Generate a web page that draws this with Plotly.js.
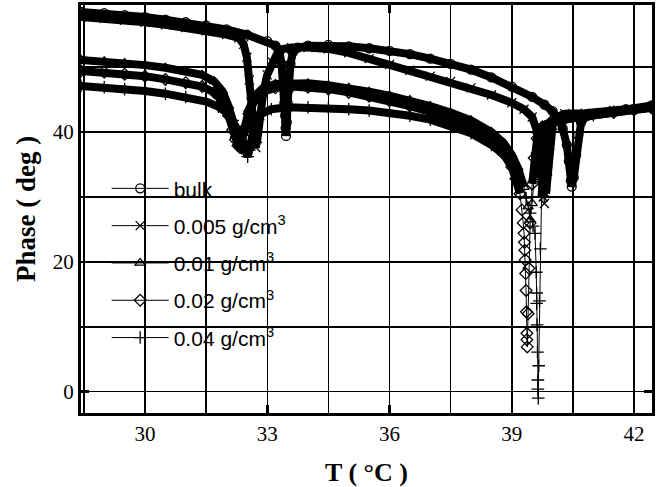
<!DOCTYPE html>
<html>
<head>
<meta charset="utf-8">
<script src="https://cdn.plot.ly/plotly-3.0.1.min.js"></script>
<style>
  html, body { margin: 0; padding: 0; background: #fff; }
  #chart { width: 672px; height: 487px; }
</style>
</head>
<body>
<div id="chart"></div>
<script>
// Phase angle vs temperature for the bulk sample and four concentrations
const seriesNames = ['bulk', '0.005 g/cm<sup>3</sup>', '0.01 g/cm<sup>3</sup>', '0.02 g/cm<sup>3</sup>', '0.04 g/cm<sup>3</sup>'];
const seriesSymbols = ['circle-open', 'x-thin-open', 'triangle-up-open', 'diamond-open', 'cross-thin-open'];

const T_bulk = [28.43, 29, 29.5, 30, 30.5, 31, 31.5, 32, 32.5, 33.0, 33.2, 33.3, 33.35, 33.39, 33.42, 33.44, 33.45, 33.46, 33.48, 33.5, 33.53, 33.57, 33.63, 33.75, 34.0, 34.5, 35, 35.5, 36, 36.5, 37, 37.5, 38, 38.5, 39, 39.5, 39.8, 40.0, 40.15, 40.25, 40.35, 40.4, 40.45, 40.47, 40.52, 40.58, 40.63, 40.7, 40.85, 41.2, 41.8, 42.43];
const P_bulk = [58.5, 58.3, 58.0, 57.7, 57.3, 56.9, 56.4, 55.8, 55.0, 54.0, 53.3, 52.4, 50.5, 47.0, 44.5, 42.5, 40.6, 39.4, 41.5, 44.5, 47.5, 50.5, 52.3, 53.0, 53.3, 53.4, 53.2, 52.9, 52.5, 52.0, 51.3, 50.5, 49.6, 48.4, 47.0, 45.4, 44.2, 43.2, 42.0, 40.5, 38.0, 35.5, 32.5, 31.6, 33.0, 36.5, 39.5, 41.5, 42.5, 42.9, 43.5, 44.1];

const T_005 = [28.43, 29, 29.5, 30, 30.5, 31, 31.5, 32, 32.3, 32.42, 32.5, 32.56, 32.6, 32.64, 32.68, 32.72, 32.76, 32.82, 32.9, 33.0, 33.12, 33.25, 33.4, 33.6, 34, 34.5, 35, 35.5, 36, 36.5, 37, 37.5, 38, 38.5, 39, 39.3, 39.5, 39.6, 39.68, 39.73, 39.77, 39.8, 39.84, 39.88, 39.93, 40.0, 40.1, 40.3, 40.8, 41.5, 42.43];
const P_005 = [57.7, 57.5, 57.2, 56.9, 56.5, 56.1, 55.6, 55.0, 54.5, 53.5, 51.5, 48.0, 44.5, 41.0, 38.5, 37.6, 39.0, 42.5, 46.0, 48.8, 50.8, 52.2, 52.8, 53.0, 53.0, 52.8, 52.2, 51.3, 50.4, 49.5, 48.6, 47.8, 46.8, 45.7, 44.5, 43.5, 42.3, 40.5, 37.0, 33.0, 30.0, 29.0, 30.5, 34.0, 38.0, 41.0, 42.3, 42.8, 42.9, 43.3, 43.9];

const T_01 = [28.43, 29, 29.5, 30, 30.5, 31, 31.4, 31.7, 31.9, 32.05, 32.15, 32.22, 32.28, 32.33, 32.38, 32.45, 32.55, 32.7, 32.9, 33.2, 33.6, 34, 34.5, 35, 35.5, 36, 36.5, 37, 37.5, 38, 38.5, 38.8, 39.0, 39.15, 39.3, 39.4, 39.45, 39.5, 39.55, 39.6, 39.68, 39.8, 40.0, 40.4, 41, 41.5, 42, 42.43];
const P_01 = [51.1, 50.9, 50.6, 50.3, 49.9, 49.4, 48.8, 47.8, 46.3, 44.0, 41.5, 39.5, 38.3, 38.0, 38.8, 41.0, 43.5, 45.6, 46.8, 47.4, 47.6, 47.5, 47.2, 46.8, 46.2, 45.6, 44.9, 44.0, 43.0, 41.8, 40.0, 38.3, 36.5, 34.5, 31.5, 28.5, 26.5, 29.0, 33.0, 37.0, 39.6, 41.0, 41.7, 42.2, 42.7, 43.1, 43.5, 43.8];

const T_02 = [28.43, 29, 29.5, 30, 30.5, 31, 31.4, 31.7, 31.9, 32.05, 32.15, 32.22, 32.28, 32.33, 32.38, 32.45, 32.55, 32.7, 32.9, 33.2, 33.6, 34, 34.5, 35, 35.5, 36, 36.5, 37, 37.5, 38, 38.5, 38.8, 39.0, 39.1, 39.2, 39.25, 39.28, 39.3, 39.31, 39.32, 39.33, 39.34, 39.35, 39.36, 39.37, 39.37, 39.38, 39.4, 39.42, 39.45, 39.5, 39.55, 39.62, 39.75, 39.95, 40.3, 40.8, 41.5, 42, 42.43];
const P_02 = [49.4, 49.2, 48.9, 48.6, 48.1, 47.6, 47.0, 46.1, 44.6, 42.5, 40.3, 38.8, 37.9, 37.6, 38.4, 40.3, 42.8, 45.0, 46.2, 46.8, 47.0, 46.9, 46.6, 46.1, 45.5, 44.8, 44.0, 43.1, 42.0, 40.6, 38.6, 36.6, 34.6, 32.8, 30.5, 28.0, 26.0, 24.4, 23.0, 21.8, 20.3, 18.2, 15.6, 12.3, 9.0, 8.0, 6.9, 12.0, 19.0, 26.0, 32.0, 36.0, 39.0, 40.8, 41.5, 42.0, 42.5, 43.0, 43.4, 43.7];

const T_04 = [28.43, 29, 29.5, 30, 30.5, 31, 31.5, 31.8, 32.0, 32.15, 32.3, 32.4, 32.47, 32.52, 32.56, 32.62, 32.7, 32.85, 33.1, 33.5, 34, 34.5, 35, 35.5, 36, 36.5, 37, 37.5, 38, 38.5, 38.8, 39.0, 39.2, 39.35, 39.45, 39.52, 39.57, 39.6, 39.61, 39.61, 39.62, 39.63, 39.64, 39.64, 39.65, 39.66, 39.68, 39.7, 39.73, 39.77, 39.84, 39.95, 40.2, 40.6, 41, 41.5, 42, 42.43];
const P_04 = [47.1, 46.9, 46.6, 46.3, 45.9, 45.4, 44.7, 43.9, 43.0, 41.8, 40.2, 38.6, 37.0, 36.2, 37.2, 39.5, 41.4, 42.8, 43.5, 43.8, 43.8, 43.7, 43.5, 43.3, 43.0, 42.5, 41.9, 41.0, 39.8, 38.0, 36.5, 35.0, 32.5, 29.8, 27.5, 25.5, 24.4, 18.4, 15.2, 13.6, 10.3, 6.1, 1.8, 0.4, -1.0, 4.0, 14.0, 22.0, 30.0, 36.0, 39.8, 41.2, 41.8, 42.2, 42.6, 43.1, 43.5, 43.8];

const xTickVals = [30, 33, 36, 39, 42];
const yTickVals = [0, 20, 40];

const seriesT = [T_bulk, T_005, T_01, T_02, T_04];
const seriesP = [P_bulk, P_005, P_01, P_02, P_04];

// the dense upper part of each curve reads as a solid band;
// below this phase the individual symbols stand apart
const bandFloor = 30;

const serif = "'Liberation Serif', 'Times New Roman', Times, serif";
const sans = "'Liberation Sans', Arial, Helvetica, sans-serif";

const traces = [];
seriesT.forEach((t, i) => {
  traces.push({
    x: t, y: seriesP[i].map(v => (v >= bandFloor ? v : null)),
    type: 'scatter', mode: 'lines', connectgaps: false,
    line: { color: '#000', width: 8 },
    showlegend: false, hoverinfo: 'skip'
  });
});
seriesT.forEach((t, i) => {
  traces.push({
    x: t, y: seriesP[i], type: 'scatter', mode: 'lines+markers',
    name: seriesNames[i], legendgroup: 'g' + i,
    line: { color: '#000', width: 1 },
    marker: { symbol: seriesSymbols[i], size: 9, color: '#000', line: { color: '#000', width: 1.3 } }
  });
});

const layout = {
  width: 672, height: 487,
  margin: { l: 81, r: 20, t: 5, b: 74 },
  paper_bgcolor: '#fff', plot_bgcolor: '#fff',
  showlegend: true,
  legend: {
    x: 0.045, y: 0.6, xanchor: 'left', yanchor: 'top',
    bgcolor: 'rgba(0,0,0,0)', borderwidth: 0,
    font: { family: sans, size: 21, color: '#000' },
    itemwidth: 57, tracegroupgap: 7
  },
  xaxis: {
    range: [28.43, 42.44],
    tickvals: xTickVals, ticktext: xTickVals.map(String),
    ticks: 'inside', ticklen: 8, tickwidth: 2.5, tickcolor: '#000',
    showline: true, linewidth: 3, linecolor: '#000', mirror: 'ticks',
    showgrid: true, gridcolor: '#000', gridwidth: 1.5,
    minor: { dtick: 1.5, tick0: 0, showgrid: true, gridcolor: '#000', gridwidth: 1.5 },
    zeroline: false,
    tickfont: { family: serif, size: 21, color: '#000' },
    title: { text: '<b>T ( °C )</b>', standoff: 18,
      font: { family: serif, size: 26, color: '#000' } }
  },
  yaxis: {
    range: [-3.28, 59.56],
    tickvals: yTickVals, ticktext: yTickVals.map(String),
    ticks: 'inside', ticklen: 8, tickwidth: 2.5, tickcolor: '#000',
    showline: true, linewidth: 3, linecolor: '#000', mirror: 'ticks',
    showgrid: true, gridcolor: '#000', gridwidth: 1.5,
    minor: { dtick: 10, tick0: 0, showgrid: true, gridcolor: '#000', gridwidth: 1.5 },
    zeroline: false,
    tickfont: { family: serif, size: 21, color: '#000' },
    title: { text: '<b>Phase ( deg )</b>', standoff: 10,
      font: { family: serif, size: 27, color: '#000' } }
  }
};

Plotly.newPlot('chart', traces, layout, { staticPlot: true, displayModeBar: false });
</script>
</body>
</html>
